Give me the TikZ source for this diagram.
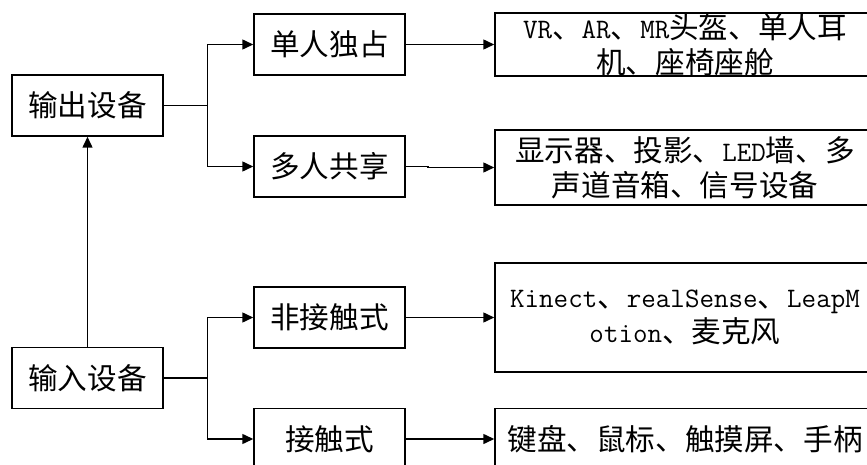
\documentclass[tikz,border=0pt]{standalone}
\usepackage{fontspec}
\setmainfont{Liberation Serif}
\newfontfamily\cjk{Noto Sans CJK SC}
\newcommand{\lat}{\ttfamily\fontsize{28.2}{35}\selectfont}
\usetikzlibrary{arrows.meta}
\begin{document}
\begin{tikzpicture}[x=1pt,y=1pt,
  box/.style={draw, line width=1.5pt, inner sep=0pt, align=center,
    font=\cjk\fontsize{29.6}{35}\selectfont},
  smallbox/.style={box, minimum width=151pt, minimum height=61pt},
  bigbox/.style={box, minimum width=380pt},
  link/.style={line width=1.5pt},
  arr/.style={link, -{Triangle[length=11pt,width=10pt]}}]
\useasboundingbox (0,0) rectangle (867,-465);
\clip (0,0) rectangle (867,-465);
% left column
\node[smallbox] (out) at (87.5,-105.5) {输出设备};
\node[smallbox] (in)  at (87.5,-378) {输入设备};
% middle column
\node[smallbox] (s1) at (329.5,-44.5) {单人独占};
\node[smallbox] (s2) at (329.5,-166.5) {多人共享};
\node[smallbox] (n1) at (329.5,-317.5) {非接触式};
\node[smallbox] (n2) at (329.5,-439) {接触式};
% right column
\node[bigbox, minimum height=61pt] (r1) at (685,-44.5)
  {{\lat VR}、{\lat AR}、{\lat MR}头盔、单人耳\\机、座椅座舱};
\node[bigbox, minimum height=75pt] (r2) at (685,-167.5)
  {显示器、投影、{\lat LED}墙、多\\声道音箱、信号设备};
\node[bigbox, minimum height=109pt] (r3) at (685,-317.5)
  {{\lat Kinect}、{\lat realSense}、{\lat LeapM}\\{\lat otion}、麦克风};
\node[bigbox, minimum height=61pt] (r4) at (685,-439)
  {键盘、鼠标、触摸屏、手柄};
% junction coordinates
\coordinate (j) at (207.7,0);
\coordinate (k2) at (428,0);
% output branches
\draw[link] (out.east) -- (out.east -| j);
\draw[arr] (out.east -| j) |- (s1.west);
\draw[arr] (out.east -| j) |- (s2.west);
% input branches
\draw[link] (in.east) -- (in.east -| j);
\draw[arr] (in.east -| j) |- (n1.west);
\draw[arr] (in.east -| j) |- (n2.west);
% input -> output
\draw[arr] (in.north) -- (out.south);
% to right boxes
\draw[arr] (s1.east) -- (s1.east -| r1.west);
\draw[arr] (s2.east) -- (s2.east -| k2) -- (r2.west -| k2) -- (r2.west);
\draw[arr] (n1.east) -- (n1.east -| r3.west);
\draw[arr] (n2.east) -- (n2.east -| r4.west);
\end{tikzpicture}
\end{document}
